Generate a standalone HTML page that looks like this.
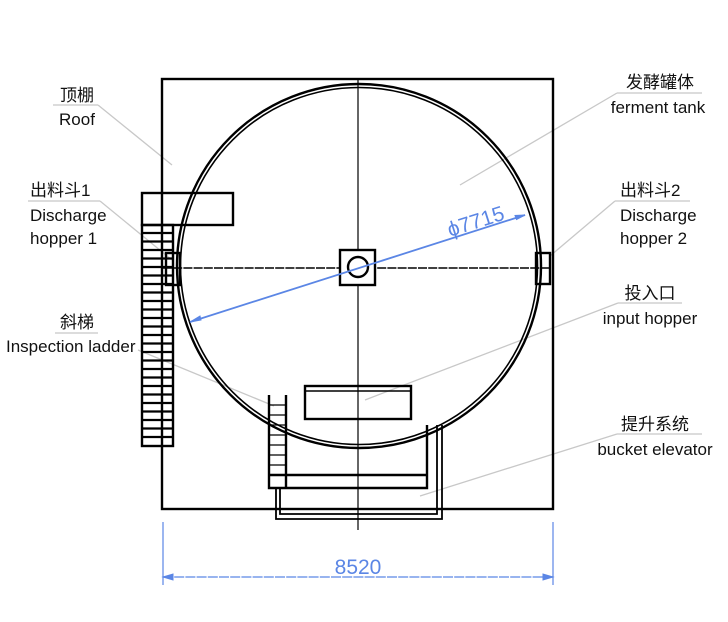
<!DOCTYPE html>
<html><head><meta charset="utf-8"><style>
html,body{margin:0;padding:0;background:#fff;}
svg{display:block}
text{font-family:"Liberation Sans","Noto Sans CJK SC",sans-serif;font-size:17px;fill:#111}
</style></head><body>
<svg width="728" height="622" viewBox="0 0 728 622" xmlns="http://www.w3.org/2000/svg">
<g stroke="#c8c8c8" stroke-width="1.3" fill="none">
<line x1="53" y1="105" x2="98" y2="105"/><line x1="98" y1="105" x2="172" y2="165"/>
<line x1="28" y1="201" x2="100" y2="201"/><line x1="100" y1="201" x2="172" y2="260"/>
<line x1="55" y1="333" x2="98" y2="333"/><line x1="138" y1="350" x2="274" y2="406"/>
<line x1="617" y1="93" x2="702" y2="93"/><line x1="617" y1="93" x2="460" y2="185"/>
<line x1="615" y1="201" x2="690" y2="201"/><line x1="615" y1="201" x2="550" y2="256"/>
<line x1="618" y1="303" x2="682" y2="303"/><line x1="618" y1="303" x2="365" y2="400"/>
<line x1="617" y1="434" x2="702" y2="434"/><line x1="617" y1="434" x2="420" y2="496"/>
</g>
<g stroke="#000" fill="none" stroke-width="2.4">
<rect x="162" y="79" width="391" height="430"/>
<line x1="358" y1="79" x2="358" y2="530" stroke-width="1.2"/>
<line x1="163" y1="268" x2="550" y2="268" stroke-width="1.6" stroke-dasharray="9 1.2"/>
<circle cx="359" cy="266" r="182"/>
<circle cx="359" cy="266" r="178.5" stroke-width="1.6"/>
<rect x="340" y="250" width="35" height="35" fill="#fff"/>
<circle cx="358" cy="267" r="10"/>
<rect x="536" y="253" width="14" height="31"/>
<rect x="166" y="253" width="14" height="32"/>
<rect x="142" y="193" width="91" height="32"/>
<rect x="142" y="225" width="31" height="221"/>
<path d="M142 233h31M142 241.5h31M142 250h31M142 258.5h31M142 267h31M142 275.5h31M142 284h31M142 292.5h31M142 301h31M142 309.5h31M142 318h31M142 326.5h31M142 335h31M142 343.5h31M142 352h31M142 360.5h31M142 369h31M142 377.5h31M142 386h31M142 394.5h31M142 403h31M142 411.5h31M142 420h31M142 428.5h31M142 437h31" stroke-width="2.2"/>
<rect x="305" y="386" width="106" height="33"/>
<line x1="305" y1="391" x2="411" y2="391" stroke-width="1.5"/>
<path d="M269 395V488H427V425M286 395V488M269 475H427"/>
<path d="M269 405h17M269 415h17M269 425h17M269 435h17M269 445h17M269 455h17M269 465h17" stroke-width="1.3"/>
<path d="M276 488V519H442V425M280 488V514H437V425" stroke-width="1.8"/>
</g>
<g stroke="#5b86e5" fill="#5b86e5">
<line x1="190" y1="322" x2="525" y2="215" stroke-width="1.8"/>
<path d="M190 322l10-6 1 4z M525 215l-10 0.5 1.5 4z"/>
<line x1="163" y1="522" x2="163" y2="585" stroke-width="1.2"/>
<line x1="553" y1="522" x2="553" y2="585" stroke-width="1.2"/>
<line x1="163" y1="577" x2="553" y2="577" stroke-width="1.3" stroke-dasharray="10 1.2"/>
<path d="M163 577l10-3v6z M553 577l-10-3v6z"/>
</g>
<text x="358" y="574" text-anchor="middle" style="font-size:21px;fill:#5b86e5">8520</text>
<text transform="translate(450,237) rotate(-17.7)" style="font-size:21px;fill:#5b86e5">ϕ7715</text>
<text x="77" y="101" text-anchor="middle">顶棚</text>
<text x="77" y="125" text-anchor="middle">Roof</text>
<text x="30" y="196">出料斗1</text>
<text x="30" y="221">Discharge</text>
<text x="30" y="244">hopper 1</text>
<text x="77" y="328" text-anchor="middle">斜梯</text>
<text x="6" y="352">Inspection ladder</text>
<text x="660" y="88" text-anchor="middle">发酵罐体</text>
<text x="658" y="113" text-anchor="middle">ferment tank</text>
<text x="620" y="196">出料斗2</text>
<text x="620" y="221">Discharge</text>
<text x="620" y="244">hopper 2</text>
<text x="650" y="299" text-anchor="middle">投入口</text>
<text x="650" y="324" text-anchor="middle">input hopper</text>
<text x="655" y="430" text-anchor="middle">提升系统</text>
<text x="655" y="455" text-anchor="middle">bucket elevator</text>
</svg>
</body></html>
